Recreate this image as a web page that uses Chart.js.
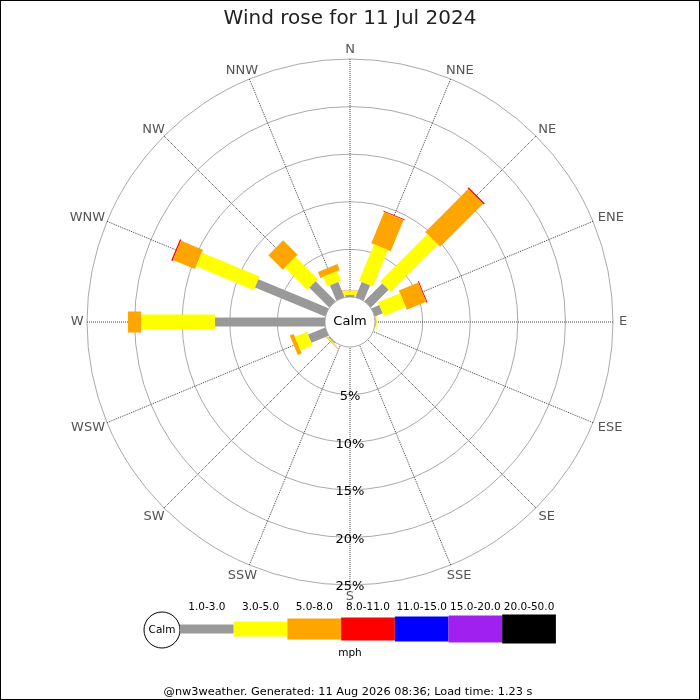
<!DOCTYPE html>
<html>
<head>
<meta charset="utf-8">
<title>Wind rose for 11 Jul 2024</title>
<script src="https://cdn.jsdelivr.net/npm/chart.js@4.4.1/dist/chart.umd.min.js"></script>
<style>
  html, body { margin: 0; padding: 0; background: #fff; }
  #wrap { width: 700px; height: 700px; }
</style>
</head>
<body>
<div id="wrap"><canvas id="rose" width="700" height="700"></canvas></div>
<script>
// compass points, clockwise from north
var directions = ['N', 'NNE', 'NE', 'ENE', 'E', 'ESE', 'SE', 'SSE',
                  'S', 'SSW', 'SW', 'WSW', 'W', 'WNW', 'NW', 'NNW'];
var speedClasses = ['1.0-3.0', '3.0-5.0', '5.0-8.0', '8.0-11.0', '11.0-15.0', '15.0-20.0', '20.0-50.0'];

// percent of the day per direction, one array per speed class (mph)
var pct1to3   = [0.2, 1.73, 2.63, 0.88, 0.05, 0, 0, 0, 0, 0, 0.1, 1.94, 11.55, 7.98, 2.94, 1.73];
var pct3to5   = [0.38, 4.15, 7.02, 2.5, 0.12, 0, 0, 0, 0, 0, 0.1, 1.38, 7.78, 6.57, 3.31, 1.1];
var pct5to8   = [0.1, 3.55, 6.4, 2.2, 0, 0, 0, 0, 0, 0, 0.08, 0.44, 1.37, 2.5, 2.15, 0.68];
var pct8to11  = [0, 0.1, 0.15, 0.1, 0, 0, 0, 0, 0, 0, 0, 0, 0, 0.15, 0, 0];
var pct11to15 = [0, 0, 0, 0, 0, 0, 0, 0, 0, 0, 0, 0, 0, 0, 0, 0];
var pct15to20 = [0, 0, 0, 0, 0, 0, 0, 0, 0, 0, 0, 0, 0, 0, 0, 0];
var pct20to50 = [0, 0, 0, 0, 0, 0, 0, 0, 0, 0, 0, 0, 0, 0, 0, 0];

var ringTicks = [5, 10, 15, 20, 25];
var tickLabels = ['5%', '10%', '15%', '20%', '25%'];

// styles
var classColors = ['#999999', '#ffff00', '#ffa500', '#ff0000', '#0000ff', '#a020f0', '#000000'];
var classWidths = [9, 15, 21, 23, 25, 27, 29];
var CALM = 2.63;   // radius of the calm hole, in percent units
var RMAX = 25;
var FONT = '"DejaVu Sans", sans-serif';

// one two-point line per bar piece; collinear control points keep it straight
function buildDatasets() {
  var series = [pct1to3, pct3to5, pct5to8, pct8to11, pct11to15, pct15to20, pct20to50];
  var cum = directions.map(function() { return CALM; });
  var sets = [];
  for (var k = 0; k < series.length; k++) {
    for (var i = 0; i < directions.length; i++) {
      var v = series[k][i];
      if (!(v > 0)) continue;
      var a = i * 2 * Math.PI / directions.length;
      var r0 = cum[i], r1 = cum[i] + v;
      cum[i] = r1;
      sets.push({
        label: speedClasses[k] + ' ' + directions[i],
        data: [{x: r0 * Math.sin(a), y: r0 * Math.cos(a)},
               {x: r1 * Math.sin(a), y: r1 * Math.cos(a)}],
        showLine: true,
        tension: 0.4,
        borderColor: classColors[k],
        borderWidth: classWidths[k],
        borderCapStyle: 'butt',
        pointRadius: 0,
        fill: false
      });
    }
  }
  return sets;
}

var roseGrid = {
  id: 'roseGrid',
  beforeDraw: function(chart) {
    var ctx = chart.ctx;
    ctx.save();
    ctx.fillStyle = '#fff';
    ctx.fillRect(0, 0, chart.width, chart.height);
    ctx.restore();
  },
  beforeDatasetsDraw: function(chart) {
    var ctx = chart.ctx, xs = chart.scales.x, ys = chart.scales.y;
    var cx = xs.getPixelForValue(0), cy = ys.getPixelForValue(0);
    var unit = xs.getPixelForValue(1) - cx;
    var n = directions.length;
    var rOut = (CALM + RMAX) * unit;
    ctx.save();
    ctx.lineWidth = 1;
    ctx.strokeStyle = '#aaa';
    ringTicks.forEach(function(t) {
      ctx.beginPath();
      ctx.arc(cx, cy, (CALM + t) * unit, 0, 2 * Math.PI);
      ctx.stroke();
    });
    ctx.strokeStyle = '#444';
    ctx.setLineDash([1, 1]);
    for (var i = 0; i < n; i++) {
      var a = i * 2 * Math.PI / n;
      ctx.beginPath();
      ctx.moveTo(cx, cy);
      ctx.lineTo(cx + rOut * Math.sin(a), cy - rOut * Math.cos(a));
      ctx.stroke();
    }
    ctx.setLineDash([]);
    ctx.beginPath();
    ctx.arc(cx, cy, CALM * unit, 0, 2 * Math.PI);
    ctx.fillStyle = '#fff';
    ctx.fill();
    ctx.strokeStyle = '#aaa';
    ctx.stroke();

    ctx.textAlign = 'center';
    ctx.textBaseline = 'middle';
    ctx.font = '13px ' + FONT;
    ctx.fillStyle = '#000';
    ctx.fillText('Calm', cx, cy);
    ringTicks.forEach(function(t, j) {
      ctx.fillText(tickLabels[j], cx, cy + (CALM + t) * unit + 2);
    });
    // compass labels sit just outside the outer ring, pushed out by half their box
    ctx.fillStyle = '#555';
    for (i = 0; i < n; i++) {
      var b = i * 2 * Math.PI / n, s = Math.sin(b), c = Math.cos(b);
      var w = ctx.measureText(directions[i]).width;
      var lx = cx + (rOut + 3.5) * s + s * w / 2 + (s > 0.01 ? 2.5 : 0);
      var ly = cy - (rOut + 3.5) * c - c * (c > 0 ? 6 : 8.5);
      ctx.fillText(directions[i], lx, ly);
    }
    ctx.restore();
  },
  afterDraw: function(chart) {
    var ctx = chart.ctx;
    var lx = 180, ly = 629, segW = 53.7;
    ctx.save();
    ctx.textAlign = 'center';
    ctx.textBaseline = 'middle';
    ctx.font = '10.5px ' + FONT;
    ctx.beginPath();
    ctx.arc(162, 630, 18, 0, 2 * Math.PI);
    ctx.fillStyle = '#fff';
    ctx.fill();
    ctx.strokeStyle = '#000';
    ctx.lineWidth = 1;
    ctx.stroke();
    ctx.fillStyle = '#000';
    ctx.fillText('Calm', 162, 630);
    for (var k = 0; k < speedClasses.length; k++) {
      ctx.fillStyle = classColors[k];
      ctx.fillRect(lx + k * segW, ly - classWidths[k] / 2, segW, classWidths[k]);
      ctx.fillStyle = '#000';
      ctx.fillText(speedClasses[k], lx + (k + 0.5) * segW, 607);
    }
    ctx.fillText('mph', 350, 653);
    ctx.font = '11.3px ' + FONT;
    ctx.fillText('@nw3weather. Generated: 11 Aug 2026 08:36; Load time: 1.23 s', 348, 692);
    ctx.strokeStyle = '#000';
    ctx.strokeRect(0.5, 0.5, chart.width - 1, chart.height - 1);
    ctx.restore();
  }
};

new Chart(document.getElementById('rose'), {
  type: 'scatter',
  data: { datasets: buildDatasets() },
  options: {
    responsive: false,
    animation: false,
    events: [],
    layout: { padding: { left: 87, right: 87, top: 0, bottom: 115 } },
    scales: {
      x: { type: 'linear', display: false, min: -(CALM + RMAX), max: CALM + RMAX },
      y: { type: 'linear', display: false, min: -(CALM + RMAX), max: CALM + RMAX }
    },
    plugins: {
      legend: { display: false },
      tooltip: { enabled: false },
      title: {
        display: true,
        text: 'Wind rose for 11 Jul 2024',
        color: '#222',
        font: { family: FONT, size: 20, weight: 'normal' },
        padding: { top: 7, bottom: 28 }
      }
    }
  },
  plugins: [roseGrid]
});
</script>
</body>
</html>
